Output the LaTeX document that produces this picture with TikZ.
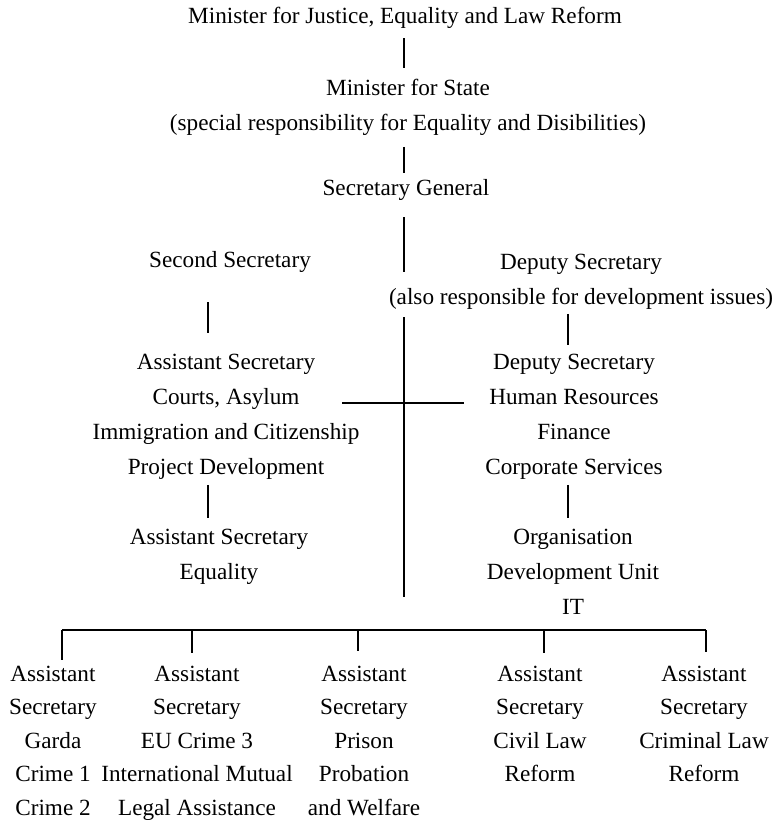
\documentclass[tikz,border=0pt]{standalone}
\usepackage{fontspec}
\setmainfont{Liberation Serif}
\tikzset{
  lbl/.style={inner sep=0pt, outer sep=0pt, align=center, anchor=north,
    font=\fontsize{23.2}{35}\selectfont,
    execute at begin node=\strut, execute at end node=\strut},
  rows/.style={font=\fontsize{23.2}{33.5}\selectfont},
  conn/.style={line width=1.1pt, black},
}
\begin{document}
\begin{tikzpicture}[x=1pt,y=-1pt]
\useasboundingbox (0,0) rectangle (779,825);
\coordinate (sp) at (404,0);
\coordinate (lx) at (208,0);
\coordinate (rx) at (568,0);
\coordinate (spA) at (404,272);
\coordinate (spB) at (404,317);
\coordinate (spC) at (404,597);
\coordinate (hL) at (342,403);
\coordinate (hR) at (464,403);
\coordinate (d1) at (62,630);
\coordinate (d2) at (192,630);
\coordinate (d3) at (358,630);
\coordinate (d4) at (544,630);
\coordinate (d5) at (706,630);

\node[lbl] (n1) at (405,-1) {Minister for Justice, Equality and Law Reform};
\node[lbl] (n2) at (408,79) {Minister for State\\(special responsibility for Equality and Disibilities)};
\node[lbl] (n3) at (406,171) {Secretary General};
\node[lbl] (n4) at (230,243) {Second Secretary};
\node[lbl] (n5) at (581,254) {Deputy Secretary\\(also responsible for development issues)};
\node[lbl] (n6) at (226,354) {Assistant Secretary\\Courts, Asylum\\Immigration and Citizenship\\Project Development};
\node[lbl] (n7) at (219,529) {Assistant Secretary\\Equality};
\node[lbl] (n8) at (574,354) {Deputy Secretary\\Human Resources\\Finance\\Corporate Services};
\node[lbl] (n9) at (573,529) {Organisation\\Development Unit\\IT};

\node[lbl,rows] (b1) at (53,666) {Assistant\\Secretary\\Garda\\Crime 1\\Crime 2};
\node[lbl,rows] (b2) at (197,666) {Assistant\\Secretary\\EU Crime 3\\International Mutual\\Legal Assistance};
\node[lbl,rows] (b3) at (364,666) {Assistant\\Secretary\\Prison\\Probation\\and Welfare};
\node[lbl,rows] (b4) at (540,666) {Assistant\\Secretary\\Civil Law\\Reform};
\node[lbl,rows] (b5) at (704,666) {Assistant\\Secretary\\Criminal Law\\Reform};

\draw[conn, shorten <=4pt, shorten >=11pt] (n1.south -| sp) -- (n2.north -| sp);
\draw[conn, shorten <=6pt, shorten >=-2pt] (n2.south -| sp) -- (n3.north -| sp);
\draw[conn, shorten <=11pt] (n3.south -| sp) -- (spA);
\draw[conn] (spB) -- (spC);
\draw[conn, shorten <=24pt, shorten >=21pt] (n4.south -| lx) -- (n6.north -| lx);
\draw[conn, shorten <=-1pt, shorten >=9pt] (n5.south -| rx) -- (n8.north -| rx);
\draw[conn, shorten >=11pt] (n6.south -| lx) -- (n7.north -| lx);
\draw[conn, shorten >=11pt] (n8.south -| rx) -- (n9.north -| rx);
\draw[conn] (hL) -- (hR);

\draw[conn] (d1) -- (d5);
\draw[conn, shorten >=6pt] (d1) -- (d1 |- b1.north);
\draw[conn, shorten >=13pt] (d2) -- (d2 |- b2.north);
\draw[conn, shorten >=15pt] (d3) -- (d3 |- b3.north);
\draw[conn, shorten >=13pt] (d4) -- (d4 |- b4.north);
\draw[conn, shorten >=14pt] (d5) -- (d5 |- b5.north);
\end{tikzpicture}
\end{document}
